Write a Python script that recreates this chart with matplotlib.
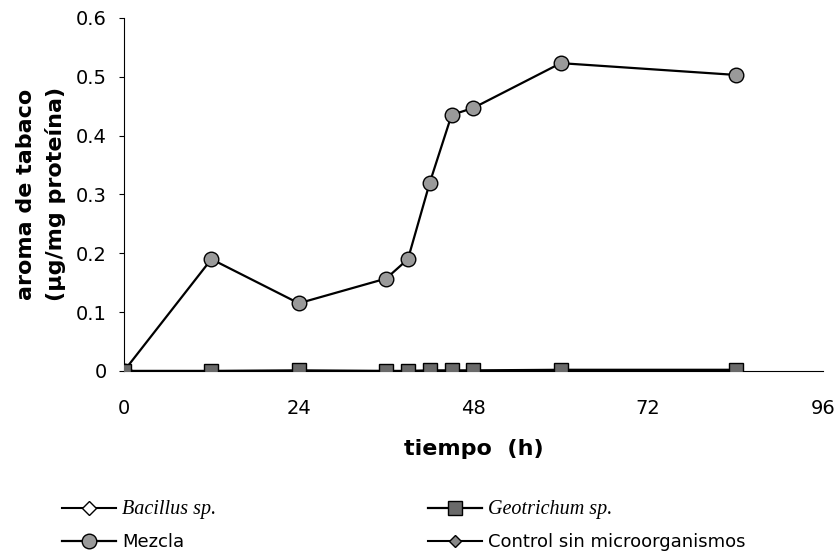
import matplotlib
matplotlib.use("Agg")
import matplotlib.pyplot as plt

time_h = [0, 12, 24, 36, 39, 42, 45, 48, 60, 84]
mezcla = [0.0, 0.19, 0.115, 0.157, 0.19, 0.32, 0.435, 0.447, 0.523, 0.503]
geotrichum = [0.0, 0.0, 0.001, 0.0, 0.0, 0.001, 0.001, 0.001, 0.002, 0.002]
bacillus = [0.0, 0.0, 0.0, 0.0, 0.0, 0.0, 0.0, 0.0, 0.0, 0.0]
control = [0.0, 0.0, 0.0, 0.0, 0.0, 0.0, 0.0, 0.0, 0.0, 0.0]
x_ticks = [0, 24, 48, 72, 96]
y_ticks = [0, 0.1, 0.2, 0.3, 0.4, 0.5, 0.6]
y_tick_labels = ["0", "0.1", "0.2", "0.3", "0.4", "0.5", "0.6"]

plt.rcParams['font.family'] = ['DejaVu Sans']

fig = plt.figure(figsize=(8.38, 5.57), dpi=100)
ax = fig.add_axes([0.148, 0.334, 0.834, 0.634])

l_bac, = ax.plot(time_h, bacillus, color='black', lw=1.5, marker='D', ms=7.5,
                 mfc='white', mec='black', mew=1, zorder=2)
l_con, = ax.plot(time_h, control, color='black', lw=1.5, marker='D', ms=6.5,
                 mfc='#888888', mec='black', mew=1, zorder=2)
l_mez, = ax.plot(time_h, mezcla, color='black', lw=1.6, marker='o', ms=10.5,
                 mfc='#9a9a9a', mec='black', mew=1, zorder=3)
l_geo, = ax.plot(time_h, geotrichum, color='black', lw=1.6, marker='s', ms=9.5,
                 mfc='#6a6a6a', mec='black', mew=1, zorder=4)

ax.set_xlim(0, 96)
ax.set_ylim(0, 0.6)
ax.set_xticks(x_ticks)
ax.set_xticklabels([str(t) for t in x_ticks], fontsize=14)
ax.set_yticks(y_ticks)
ax.set_yticklabels(y_tick_labels, fontsize=14)
ax.tick_params(axis='x', length=0, pad=20)
ax.tick_params(axis='y', length=3.6, width=0.8, direction='out', pad=9)
for s in ['top', 'right']:
    ax.spines[s].set_visible(False)
ax.spines['left'].set_linewidth(0.8)
ax.spines['bottom'].set_linewidth(0.8)

ax.set_xlabel("tiempo  (h)", fontsize=16, fontweight='bold', labelpad=15)
ax.set_ylabel("aroma de tabaco\n(µg/mg proteína)", fontsize=16, fontweight='bold',
              labelpad=7, linespacing=1.5)

handles = [l_bac, l_mez, l_geo, l_con]
labels = ["Bacillus sp.", "Mezcla", "Geotrichum sp.", "Control sin microorganismos"]
leg = fig.legend(handles, labels, ncol=2, loc='upper left',
                 bbox_to_anchor=(62 / 838, 1 - 500 / 557), borderaxespad=0, borderpad=0,
                 frameon=False, fontsize=13, columnspacing=11.7, handlelength=3.0,
                 handletextpad=0.35, labelspacing=0.8)
texts = leg.get_texts()
for i in (0, 2):
    texts[i].set_fontfamily('Liberation Serif')
    texts[i].set_fontstyle('italic')
    texts[i].set_fontsize(14.5)

fig.savefig("out.png", dpi=100)
